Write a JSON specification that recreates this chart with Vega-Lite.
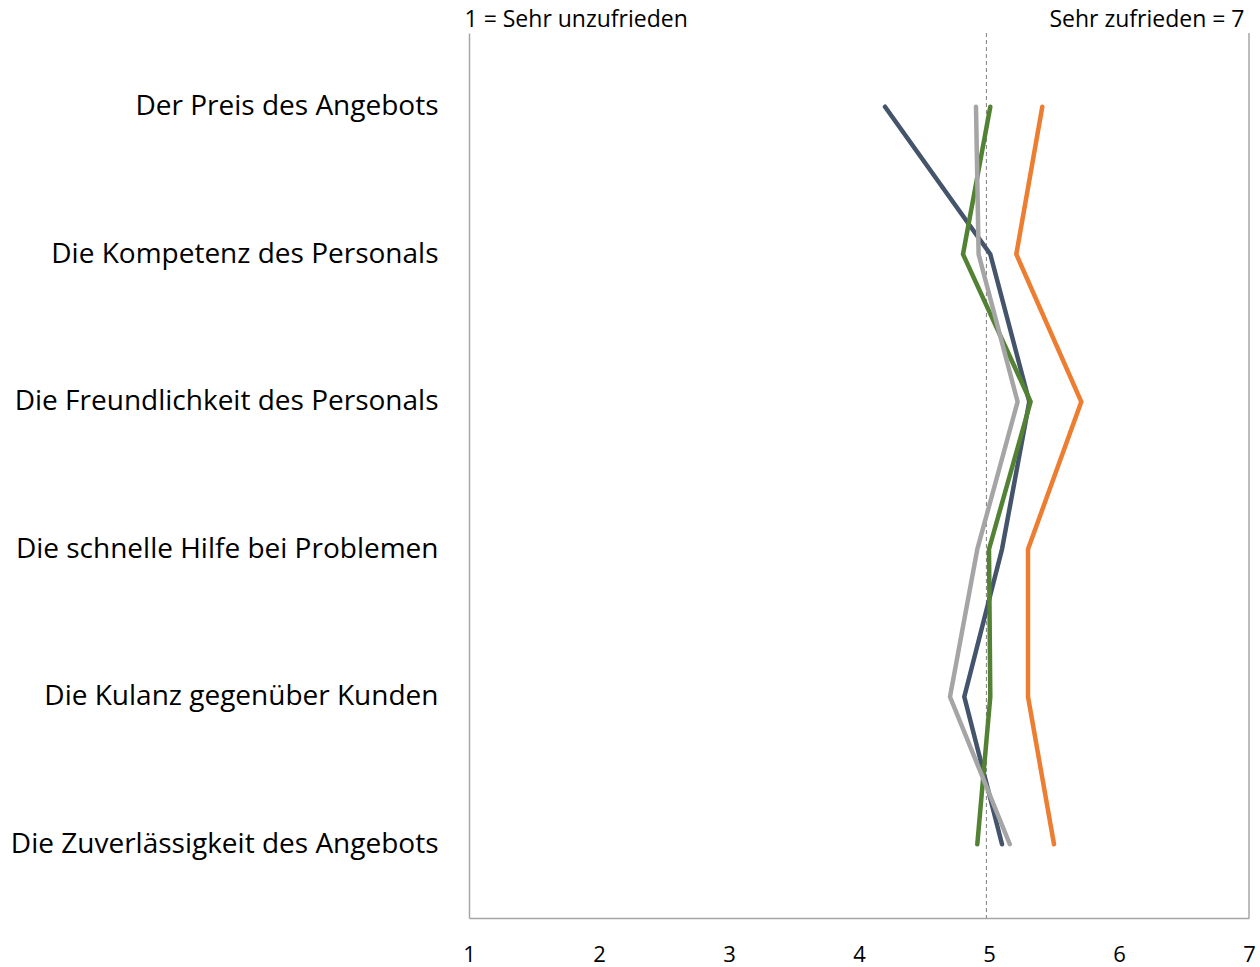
{
  "$schema": "https://vega.github.io/schema/vega-lite/v6.json",
  "width": 780,
  "height": 885,
  "autosize": {"type": "none"},
  "padding": {"left": 469, "top": 33, "right": 11, "bottom": 49},
  "background": "white",
  "config": {"view": {"stroke": null}, "font": "Open Sans"},
  "layer": [
    {
      "data": {"values": [{"Referenz": 4.98}]},
      "mark": {"type": "rule", "color": "#7F7F7F", "strokeWidth": 1, "strokeDash": [4, 3]},
      "encoding": {
        "x": {"field": "Referenz", "type": "quantitative", "scale": {"domain": [1, 7], "nice": false, "zero": false}, "axis": null}
      }
    },
    {
      "data": {"values": [{"Skalenende": 7}]},
      "mark": {"type": "rule", "color": "#A6A6A6", "strokeWidth": 1.5},
      "encoding": {
        "x": {
          "field": "Skalenende",
          "type": "quantitative",
          "axis": {
            "orient": "top",
            "values": [1, 7],
            "title": null,
            "domain": false,
            "ticks": false,
            "tickSize": 0,
            "grid": false,
            "labelFlush": false,
            "labelLimit": 500,
            "labelOverlap": false,
            "labelExpr": "datum.value == 1 ? '1 = Sehr unzufrieden' : 'Sehr zufrieden = 7'",
            "labelAlign": {"condition": {"test": "datum.value == 1", "value": "left"}, "value": "right"},
            "labelBaseline": "alphabetic",
            "labelPadding": 7,
            "labelOffset": -5,
            "labelFontSize": 23,
            "labelColor": "#000000",
            "labelFont": "Open Sans"
          }
        }
      }
    },
    {
      "data": {
        "values": [
          {"Serie": "Reihe 1", "Nr": 1, "Aspekt": "Der Preis des Angebots", "Wert": 4.20},
          {"Serie": "Reihe 1", "Nr": 2, "Aspekt": "Die Kompetenz des Personals", "Wert": 5.01},
          {"Serie": "Reihe 1", "Nr": 3, "Aspekt": "Die Freundlichkeit des Personals", "Wert": 5.31},
          {"Serie": "Reihe 1", "Nr": 4, "Aspekt": "Die schnelle Hilfe bei Problemen", "Wert": 5.10},
          {"Serie": "Reihe 1", "Nr": 5, "Aspekt": "Die Kulanz gegenüber Kunden", "Wert": 4.81},
          {"Serie": "Reihe 1", "Nr": 6, "Aspekt": "Die Zuverlässigkeit des Angebots", "Wert": 5.10},
          {"Serie": "Reihe 2", "Nr": 1, "Aspekt": "Der Preis des Angebots", "Wert": 5.41},
          {"Serie": "Reihe 2", "Nr": 2, "Aspekt": "Die Kompetenz des Personals", "Wert": 5.21},
          {"Serie": "Reihe 2", "Nr": 3, "Aspekt": "Die Freundlichkeit des Personals", "Wert": 5.71},
          {"Serie": "Reihe 2", "Nr": 4, "Aspekt": "Die schnelle Hilfe bei Problemen", "Wert": 5.30},
          {"Serie": "Reihe 2", "Nr": 5, "Aspekt": "Die Kulanz gegenüber Kunden", "Wert": 5.30},
          {"Serie": "Reihe 2", "Nr": 6, "Aspekt": "Die Zuverlässigkeit des Angebots", "Wert": 5.50},
          {"Serie": "Reihe 3", "Nr": 1, "Aspekt": "Der Preis des Angebots", "Wert": 5.01},
          {"Serie": "Reihe 3", "Nr": 2, "Aspekt": "Die Kompetenz des Personals", "Wert": 4.80},
          {"Serie": "Reihe 3", "Nr": 3, "Aspekt": "Die Freundlichkeit des Personals", "Wert": 5.32},
          {"Serie": "Reihe 3", "Nr": 4, "Aspekt": "Die schnelle Hilfe bei Problemen", "Wert": 5.00},
          {"Serie": "Reihe 3", "Nr": 5, "Aspekt": "Die Kulanz gegenüber Kunden", "Wert": 5.01},
          {"Serie": "Reihe 3", "Nr": 6, "Aspekt": "Die Zuverlässigkeit des Angebots", "Wert": 4.91},
          {"Serie": "Reihe 4", "Nr": 1, "Aspekt": "Der Preis des Angebots", "Wert": 4.90},
          {"Serie": "Reihe 4", "Nr": 2, "Aspekt": "Die Kompetenz des Personals", "Wert": 4.92},
          {"Serie": "Reihe 4", "Nr": 3, "Aspekt": "Die Freundlichkeit des Personals", "Wert": 5.22},
          {"Serie": "Reihe 4", "Nr": 4, "Aspekt": "Die schnelle Hilfe bei Problemen", "Wert": 4.91},
          {"Serie": "Reihe 4", "Nr": 5, "Aspekt": "Die Kulanz gegenüber Kunden", "Wert": 4.70},
          {"Serie": "Reihe 4", "Nr": 6, "Aspekt": "Die Zuverlässigkeit des Angebots", "Wert": 5.16}
        ]
      },
      "mark": {"type": "line", "strokeWidth": 4.5, "strokeCap": "round", "strokeJoin": "miter"},
      "encoding": {
        "y": {
          "field": "Aspekt",
          "type": "nominal",
          "sort": ["Der Preis des Angebots", "Die Kompetenz des Personals", "Die Freundlichkeit des Personals", "Die schnelle Hilfe bei Problemen", "Die Kulanz gegenüber Kunden", "Die Zuverlässigkeit des Angebots"],
          "scale": {"type": "point", "padding": 0.5},
          "axis": {
            "title": null,
            "domainColor": "#A6A6A6",
            "domainWidth": 1.5,
            "ticks": false,
            "tickSize": 0,
            "grid": false,
            "labelFontSize": 28,
            "labelFont": "Open Sans",
            "labelColor": "#000000",
            "labelPadding": 31,
            "labelLimit": 700
          }
        },
        "x": {
          "field": "Wert",
          "type": "quantitative",
          "scale": {"domain": [1, 7], "nice": false, "zero": false},
          "axis": {
            "orient": "bottom",
            "values": [1, 2, 3, 4, 5, 6, 7],
            "title": null,
            "grid": false,
            "ticks": false,
            "tickSize": 0,
            "domainColor": "#A6A6A6",
            "domainWidth": 1.5,
            "labelFlush": false,
            "labelBaseline": "alphabetic",
            "labelPadding": 43,
            "labelFontSize": 22,
            "labelFont": "Open Sans",
            "labelColor": "#000000"
          }
        },
        "color": {
          "field": "Serie",
          "type": "nominal",
          "scale": {"domain": ["Reihe 1", "Reihe 2", "Reihe 3", "Reihe 4"], "range": ["#44546A", "#ED7D31", "#548235", "#A5A5A5"]},
          "legend": null
        },
        "order": {"field": "Nr", "type": "quantitative"}
      }
    }
  ],
  "resolve": {"axis": {"x": "independent"}}
}
